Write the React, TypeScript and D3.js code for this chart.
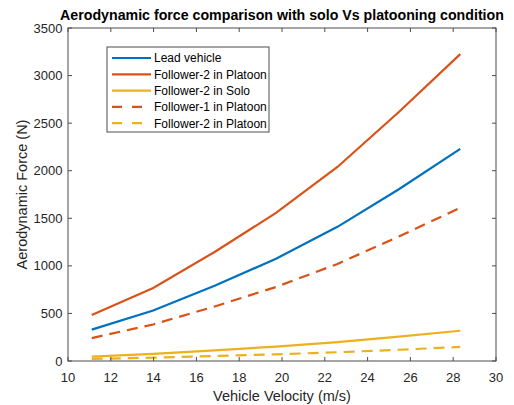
import React from "react";
import * as d3 from "d3";

const velocity = [11.11, 13.98, 16.85, 19.72, 22.59, 25.46, 28.33];
const leadVehicle = [330, 530, 790, 1075, 1410, 1805, 2230];
const follower2Platoon = [483, 767, 1146, 1556, 2039, 2617, 3225];
const follower2Solo = [47, 75, 112, 152, 199, 256, 318];
const follower1Platoon = [241, 384, 573, 778, 1020, 1309, 1610];
const follower2PlatoonDashed = [22, 35, 52, 70, 92, 118, 148];

const xTicks = [10, 12, 14, 16, 18, 20, 22, 24, 26, 28, 30];
const yTicks = [0, 500, 1000, 1500, 2000, 2500, 3000, 3500];

const seriesNames = [
  "Lead vehicle",
  "Follower-2 in Platoon",
  "Follower-2 in Solo",
  "Follower-1 in Platoon",
  "Follower-2 in Platoon",
];

const BLUE = "#0072BD";
const ORANGE = "#D95319";
const YELLOW = "#EDB120";
const AXIS = "#4d4d4d";
const FONT = "'Liberation Sans', Arial, Helvetica, sans-serif";

export default function App() {
  const W = 514, H = 405;
  const L = 68, R = 496, T = 28, B = 361;
  const x = d3.scaleLinear().domain([10, 30]).range([L, R]);
  const y = d3.scaleLinear().domain([0, 3500]).range([B, T]);
  const line = d3
    .line<number>()
    .x((_, i) => x(velocity[i]))
    .y((d) => y(d));

  const series = [
    { data: leadVehicle, color: BLUE, dash: undefined },
    { data: follower2Platoon, color: ORANGE, dash: undefined },
    { data: follower2Solo, color: YELLOW, dash: undefined },
    { data: follower1Platoon, color: ORANGE, dash: "11 7" },
    { data: follower2PlatoonDashed, color: YELLOW, dash: "11 7" },
  ];

  const tick = 4;
  const legX = 107, legY = 47, legW = 162, legH = 85;

  return (
    <svg
      width={W}
      height={H}
      style={{ position: "absolute", left: 0, top: 0, background: "#fff" }}
      fontFamily={FONT}
    >
      <rect x={0} y={0} width={W} height={H} fill="#fff" />
      <text
        x={(L + R) / 2}
        y={20}
        textAnchor="middle"
        fontSize={14.2}
        fontWeight="bold"
        fill="#000"
      >
        Aerodynamic force comparison with solo Vs platooning condition
      </text>

      {/* series */}
      {series.map((s, i) => (
        <path
          key={i}
          d={line(s.data) || ""}
          fill="none"
          stroke={s.color}
          strokeWidth={2.2}
          strokeDasharray={s.dash}
        />
      ))}

      {/* axes box */}
      <rect x={L} y={T} width={R - L} height={B - T} fill="none" stroke={AXIS} strokeWidth={1} />
      {xTicks.map((t) => (
        <g key={"x" + t}>
          <line x1={x(t)} x2={x(t)} y1={B} y2={B - tick} stroke={AXIS} />
          <line x1={x(t)} x2={x(t)} y1={T} y2={T + tick} stroke={AXIS} />
          <text x={x(t)} y={382} textAnchor="middle" fontSize={13} fill="#262626">
            {t}
          </text>
        </g>
      ))}
      {yTicks.map((t) => (
        <g key={"y" + t}>
          <line x1={L} x2={L + tick} y1={y(t)} y2={y(t)} stroke={AXIS} />
          <line x1={R} x2={R - tick} y1={y(t)} y2={y(t)} stroke={AXIS} />
          <text x={62.5} y={y(t) + 4.6} textAnchor="end" fontSize={13} fill="#262626">
            {t}
          </text>
        </g>
      ))}
      <text x={(L + R) / 2} y={401} textAnchor="middle" fontSize={14.5} fill="#262626">
        Vehicle Velocity (m/s)
      </text>
      <text
        transform={`translate(27,${(T + B) / 2}) rotate(-90)`}
        textAnchor="middle"
        fontSize={14.5}
        fill="#262626"
      >
        Aerodynamic Force (N)
      </text>

      {/* legend */}
      <rect x={legX} y={legY} width={legW} height={legH} fill="#fff" stroke={AXIS} strokeWidth={1} />
      {series.map((s, i) => {
        const ly = 58 + i * 16.3;
        return (
          <g key={"leg" + i}>
            <line
              x1={112}
              x2={151}
              y1={ly}
              y2={ly}
              stroke={s.color}
              strokeWidth={2.2}
              strokeDasharray={s.dash ? "10 10" : undefined}
            />
            <text x={154} y={ly + 4.3} fontSize={12} fill="#000">
              {seriesNames[i]}
            </text>
          </g>
        );
      })}
    </svg>
  );
}
